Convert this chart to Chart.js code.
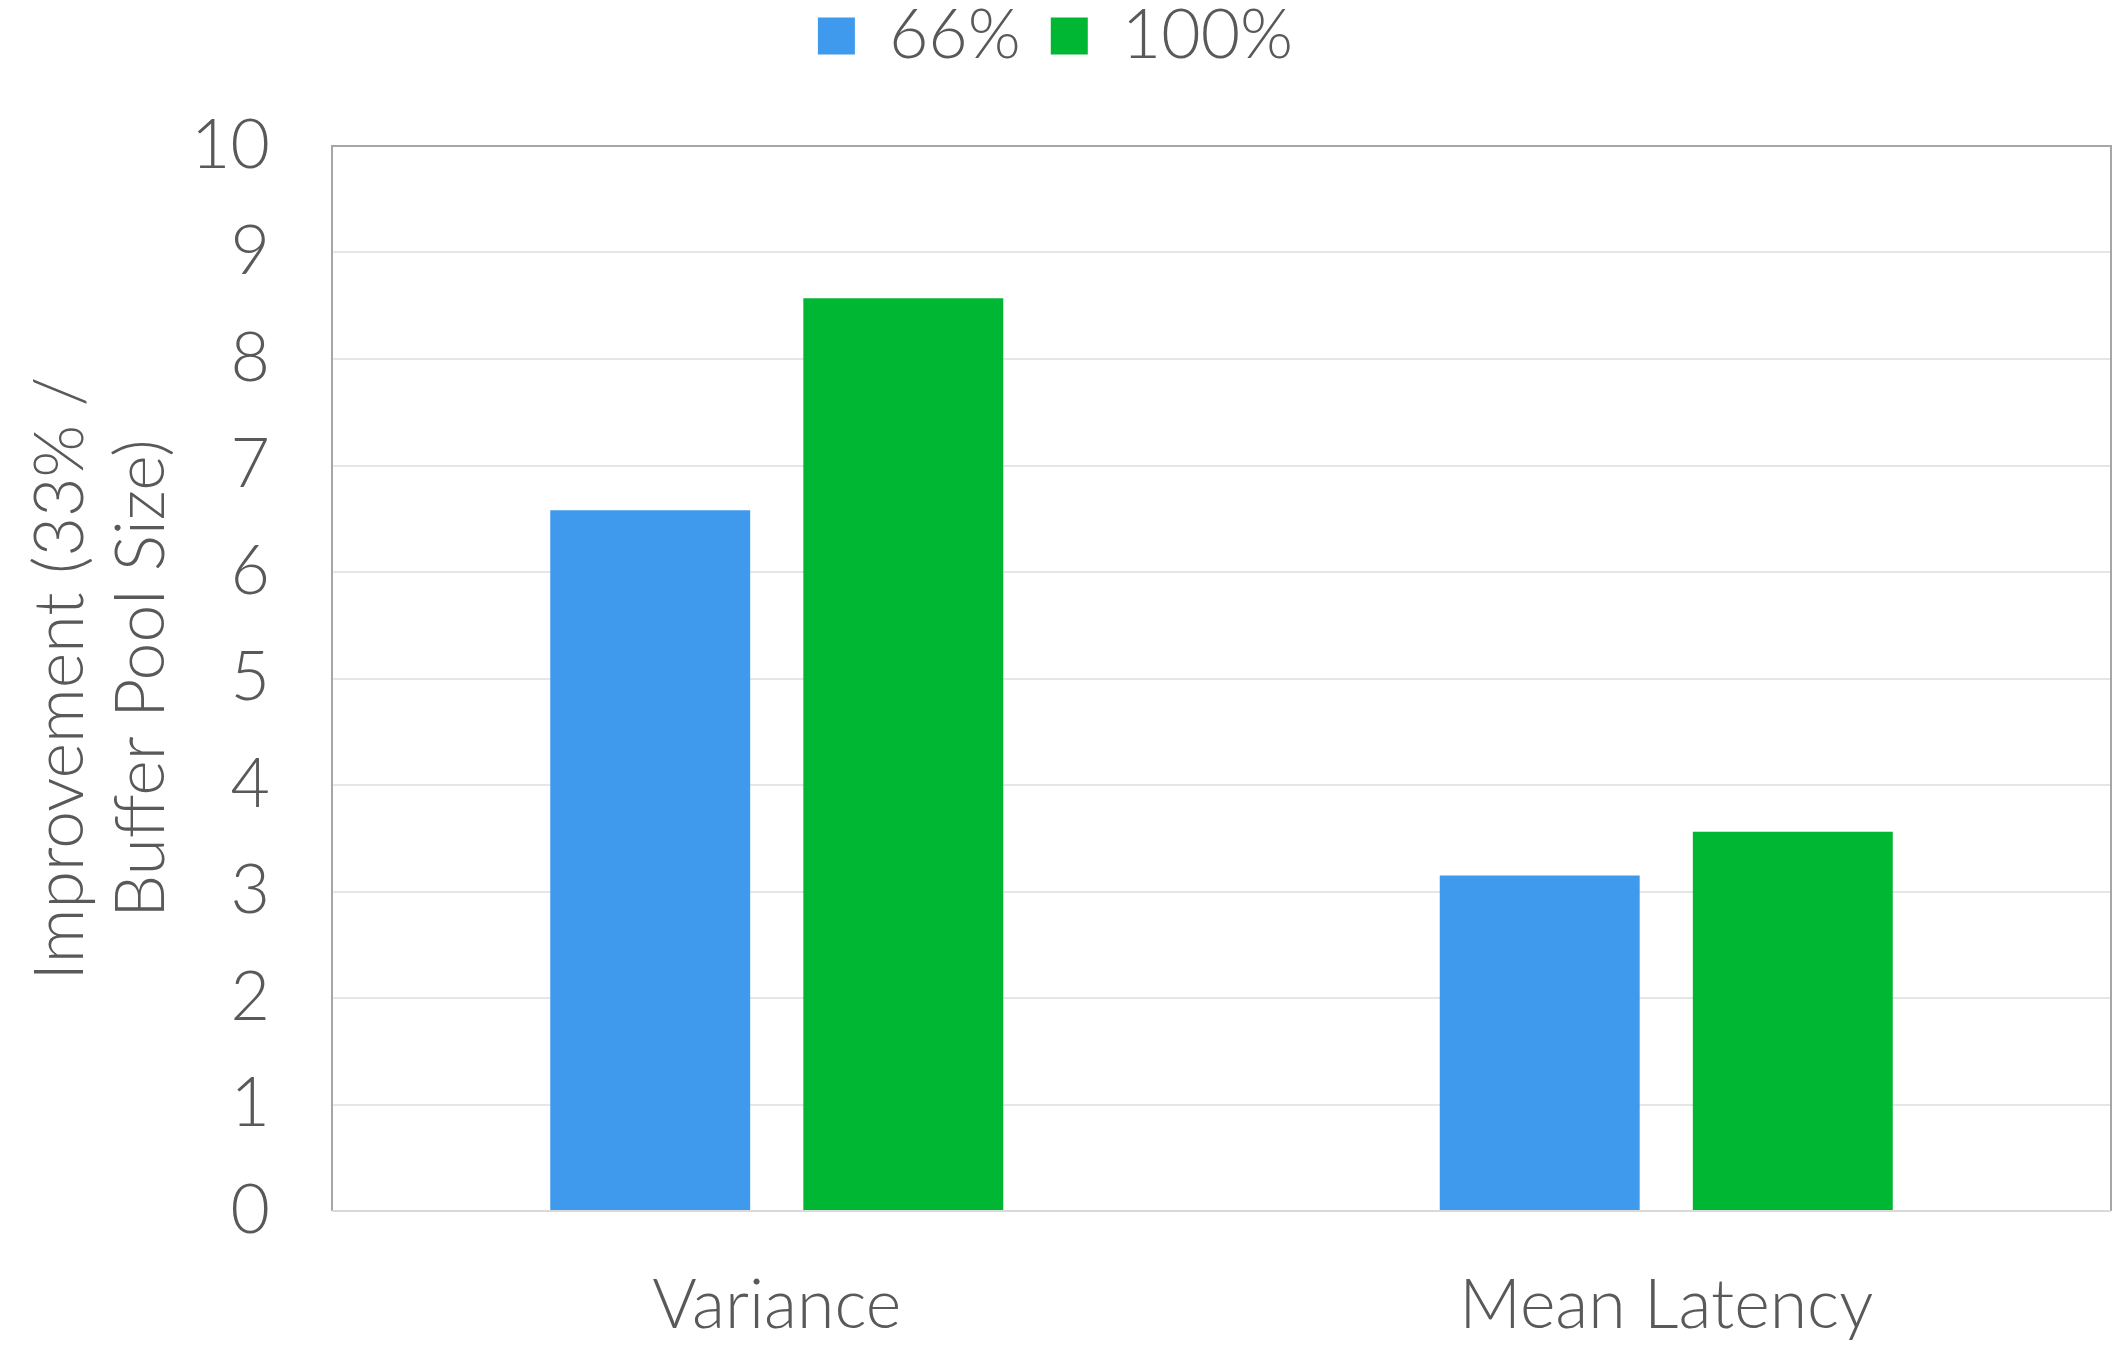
<!DOCTYPE html>
<html>
<head>
<meta charset="utf-8">
<script src="https://cdn.jsdelivr.net/npm/chart.js@4"></script>
<style>
  html, body { margin: 0; padding: 0; background: #fff; }
  #wrap { width: 2116px; height: 1348px; }
</style>
</head>
<body>
<div id="wrap"><canvas id="myChart" width="2116" height="1348"></canvas></div>
<script>
const categories = ['Variance', 'Mean Latency'];
const serie66 = [6.58, 3.15];
const serie100 = [8.57, 3.56];
const yTitle = ['Improvement (33% /', 'Buffer Pool Size)'];

const gris = '#595959';
const police = { family: "Lato, 'Open Sans', sans-serif", size: 68, weight: 300 };

// cadre autour de la zone du graphique
const cadre = {
    id: 'cadre',
    afterDraw(chart) {
        const { ctx, chartArea: a } = chart;
        ctx.save();
        ctx.strokeStyle = '#a6a6a6';
        ctx.lineWidth = 2;
        ctx.beginPath();
        ctx.moveTo(a.left, a.bottom);
        ctx.lineTo(a.left, a.top);
        ctx.lineTo(a.right, a.top);
        ctx.lineTo(a.right, a.bottom);
        ctx.stroke();
        ctx.strokeStyle = '#d9d9d9';
        ctx.beginPath();
        ctx.moveTo(a.left, a.bottom);
        ctx.lineTo(a.right, a.bottom);
        ctx.stroke();
        ctx.restore();
    }
};

// hauteur fixe pour la légende
const hauteurLegende = {
    id: 'hauteurLegende',
    beforeLayout(chart) {
        const lg = chart.legend;
        if (lg && !lg._fixe) {
            const fit = lg.fit;
            lg.fit = function () {
                fit.call(this);
                this.height = 174;
            };
            lg._fixe = true;
        }
    }
};

const graph = document.getElementById('myChart');
Chart.defaults.color = gris;

const myChart = new Chart(graph, {
    type: 'bar',
    data: {
        labels: categories,
        datasets: [{
            label: '66%',
            data: serie66,
            backgroundColor: '#3f99ec',
            categoryPercentage: 0.569,
            barPercentage: 0.79
        }, {
            label: '100%',
            data: serie100,
            backgroundColor: '#00b733',
            categoryPercentage: 0.569,
            barPercentage: 0.79
        }]
    },
    options: {
        responsive: false,
        animation: false,
        layout: { padding: { top: -28, right: 5, left: 0, bottom: 0 } },
        plugins: {
            legend: {
                position: 'top',
                labels: {
                    font: police,
                    color: gris,
                    boxWidth: 37,
                    boxHeight: 37,
                    padding: 30
                }
            },
            tooltip: { enabled: false }
        },
        scales: {
            x: {
                grid: { display: false, drawTicks: false },
                border: { display: false },
                ticks: { font: police, color: gris, padding: 54 },
                afterFit(s) { s.height = 137; }
            },
            y: {
                min: 0,
                max: 10,
                ticks: { stepSize: 1, font: police, color: gris, padding: 62 },
                grid: { color: '#e6e6e6', lineWidth: 2, drawTicks: false },
                border: { display: false },
                title: {
                    display: true,
                    text: yTitle,
                    font: police,
                    color: gris,
                    padding: { top: 20, bottom: 0 }
                },
                afterFit(s) { s.width = 332; }
            }
        }
    },
    plugins: [cadre, hauteurLegende]
});
</script>
</body>
</html>
